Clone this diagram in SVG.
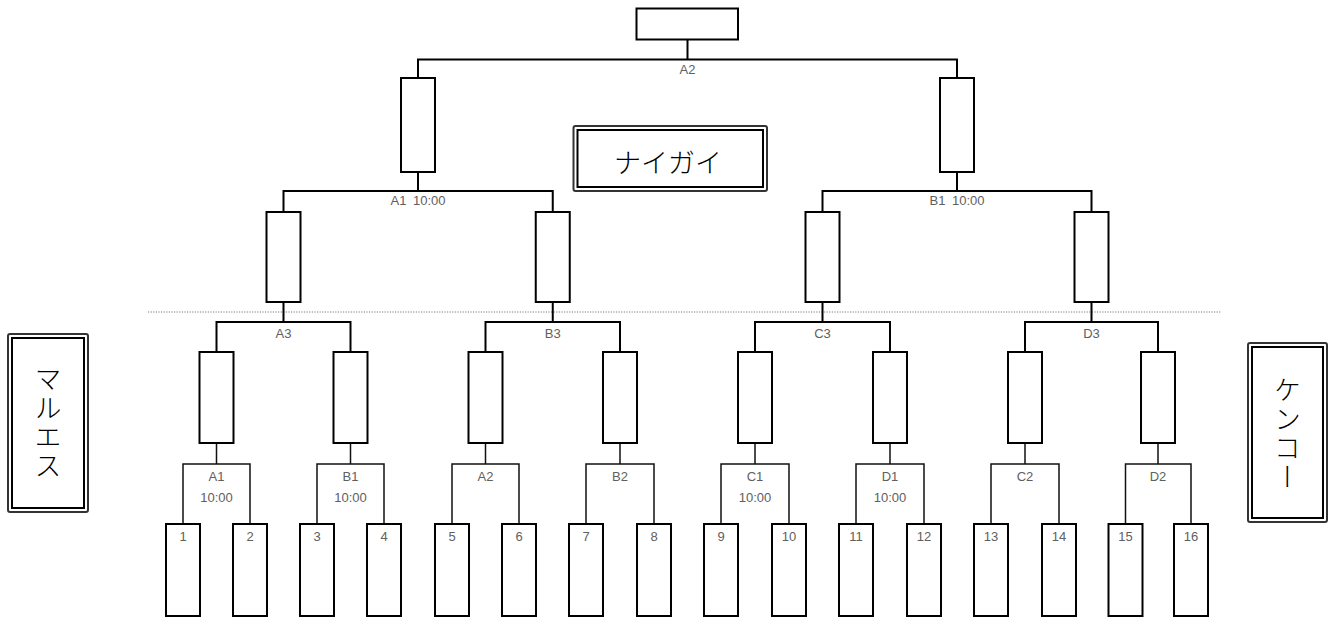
<svg xmlns="http://www.w3.org/2000/svg" width="1329" height="619" viewBox="0 0 1329 619">
<style>
.bx{fill:#fff;stroke:#000;stroke-width:2}
.ln{fill:none;stroke:#000;stroke-width:2;stroke-linecap:square}
.ln2{fill:none;stroke:#111;stroke-width:1.5;stroke-linecap:square}
.lb{font-family:"Liberation Sans",Arial,sans-serif;font-size:13px;fill:#606060;text-anchor:middle}
.o{fill:#fff;stroke:#333;stroke-width:2}
.i{fill:none;stroke:#000;stroke-width:2}
.jp{font-family:"Noto Sans CJK JP",sans-serif;font-size:27px;font-weight:300;fill:#000;text-anchor:middle}
.jv{font-family:"Noto Sans CJK JP",sans-serif;font-size:27px;font-weight:300;fill:#000;text-anchor:middle;writing-mode:vertical-rl;letter-spacing:2px}
</style>
<rect width="1329" height="619" fill="#fff"/>
<line x1="148" y1="312" x2="1221" y2="312" stroke="#777" stroke-width="1" stroke-dasharray="1.2 1.4"/>
<g id="connectors">
<path class="ln" d="M687.5 39.5V59.5M418 78V59.5H957V78M418 172V191M957 172V191M283.5 212V191H552.75V212M822.5 212V191H1091.5V212M283.5 302V322M552.75 302V322M822.5 302V322M1091.5 302V322M216.5 352V322H350.5V352M485.5 352V322H620V352M755 352V322H890V352M1025 352V322H1158V352"/>
<path class="ln2" d="M216.5 443V464M350.5 443V464M485.5 443V464M620 443V464M755 443V464M890 443V464M1025 443V464M1158 443V464M183 524V464H250V524M317 524V464H384V524M452 524V464H519V524M586 524V464H654V524M721 524V464H789V524M856 524V464H924V524M991 524V464H1059V524M1125.5 524V464H1191V524"/>
</g>
<g id="final"><rect class="bx" x="636.5" y="8.5" width="101.5" height="31"/></g>
<g id="sf-l"><rect class="bx" x="401" y="78" width="34" height="94"/></g>
<g id="sf-r"><rect class="bx" x="940" y="78" width="34" height="94"/></g>
<g id="qf1"><rect class="bx" x="266.5" y="212" width="34" height="90"/></g>
<g id="qf2"><rect class="bx" x="535.75" y="212" width="34" height="90"/></g>
<g id="qf3"><rect class="bx" x="805.5" y="212" width="34" height="90"/></g>
<g id="qf4"><rect class="bx" x="1074.5" y="212" width="34" height="90"/></g>
<g id="r2-1"><rect class="bx" x="199.5" y="352" width="34" height="91"/></g>
<g id="r2-2"><rect class="bx" x="333.5" y="352" width="34" height="91"/></g>
<g id="r2-3"><rect class="bx" x="468.5" y="352" width="34" height="91"/></g>
<g id="r2-4"><rect class="bx" x="603" y="352" width="34" height="91"/></g>
<g id="r2-5"><rect class="bx" x="738" y="352" width="34" height="91"/></g>
<g id="r2-6"><rect class="bx" x="873" y="352" width="34" height="91"/></g>
<g id="r2-7"><rect class="bx" x="1008" y="352" width="34" height="91"/></g>
<g id="r2-8"><rect class="bx" x="1141" y="352" width="34" height="91"/></g>
<g id="t1"><rect class="bx" x="166" y="524" width="34" height="92"/><text class="lb" x="183" y="541">1</text></g>
<g id="t2"><rect class="bx" x="233" y="524" width="34" height="92"/><text class="lb" x="250" y="541">2</text></g>
<g id="t3"><rect class="bx" x="300" y="524" width="34" height="92"/><text class="lb" x="317" y="541">3</text></g>
<g id="t4"><rect class="bx" x="367" y="524" width="34" height="92"/><text class="lb" x="384" y="541">4</text></g>
<g id="t5"><rect class="bx" x="435" y="524" width="34" height="92"/><text class="lb" x="452" y="541">5</text></g>
<g id="t6"><rect class="bx" x="502" y="524" width="34" height="92"/><text class="lb" x="519" y="541">6</text></g>
<g id="t7"><rect class="bx" x="569" y="524" width="34" height="92"/><text class="lb" x="586" y="541">7</text></g>
<g id="t8"><rect class="bx" x="637" y="524" width="34" height="92"/><text class="lb" x="654" y="541">8</text></g>
<g id="t9"><rect class="bx" x="704" y="524" width="34" height="92"/><text class="lb" x="721" y="541">9</text></g>
<g id="t10"><rect class="bx" x="772" y="524" width="34" height="92"/><text class="lb" x="789" y="541">10</text></g>
<g id="t11"><rect class="bx" x="839" y="524" width="34" height="92"/><text class="lb" x="856" y="541">11</text></g>
<g id="t12"><rect class="bx" x="907" y="524" width="34" height="92"/><text class="lb" x="924" y="541">12</text></g>
<g id="t13"><rect class="bx" x="974" y="524" width="34" height="92"/><text class="lb" x="991" y="541">13</text></g>
<g id="t14"><rect class="bx" x="1042" y="524" width="34" height="92"/><text class="lb" x="1059" y="541">14</text></g>
<g id="t15"><rect class="bx" x="1108.5" y="524" width="34" height="92"/><text class="lb" x="1125.5" y="541">15</text></g>
<g id="t16"><rect class="bx" x="1174" y="524" width="34" height="92"/><text class="lb" x="1191" y="541">16</text></g>
<g id="labels">
<text class="lb" x="687.5" y="74">A2</text>
<text class="lb" x="418" y="205" word-spacing="3">A1 10:00</text>
<text class="lb" x="957" y="205" word-spacing="3">B1 10:00</text>
<text class="lb" x="283.5" y="338">A3</text>
<text class="lb" x="552.75" y="338">B3</text>
<text class="lb" x="822.5" y="338">C3</text>
<text class="lb" x="1091.5" y="338">D3</text>
<text class="lb" x="216.5" y="481">A1</text><text class="lb" x="216.5" y="502">10:00</text>
<text class="lb" x="350.5" y="481">B1</text><text class="lb" x="350.5" y="502">10:00</text>
<text class="lb" x="485.5" y="481">A2</text>
<text class="lb" x="620" y="481">B2</text>
<text class="lb" x="755" y="481">C1</text><text class="lb" x="755" y="502">10:00</text>
<text class="lb" x="890" y="481">D1</text><text class="lb" x="890" y="502">10:00</text>
<text class="lb" x="1025" y="481">C2</text>
<text class="lb" x="1158" y="481">D2</text>
</g>
<g id="naigai"><rect class="o" x="573.5" y="126" width="193.5" height="65" rx="2"/><rect class="i" x="577.5" y="130" width="185.5" height="57"/><text class="jp" x="668" y="173">ナイガイ</text></g>
<g id="marues"><rect class="o" x="8" y="334" width="80" height="178" rx="2"/><rect class="i" x="12" y="338" width="72" height="170"/><text class="jv" x="48" y="423">マルエス</text></g>
<g id="kenko"><rect class="o" x="1248" y="343" width="79" height="179" rx="2"/><rect class="i" x="1252" y="347" width="71" height="171"/><text class="jv" x="1287.5" y="434">ケンコー</text></g>
</svg>
